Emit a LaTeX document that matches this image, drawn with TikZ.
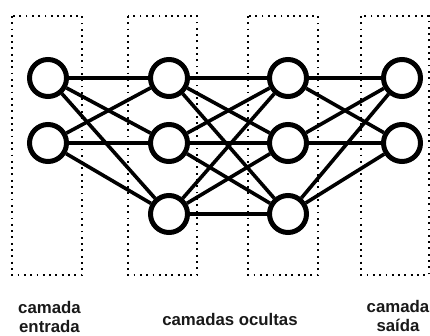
\documentclass[tikz,border=0pt]{standalone}
\usepackage{fontspec}
\setmainfont{Liberation Sans}
\begin{document}
\begin{tikzpicture}[x=1pt,y=-1pt,
  neuron/.style={circle,draw=black,line width=5pt,fill=white,minimum size=37pt,inner sep=0pt},
  link/.style={line width=3.6pt,black},
  layerbox/.style={draw=black,line width=1.8pt,dash pattern=on 1.8pt off 4.5pt},
  lbl/.style={font=\bfseries\fontsize{16.8}{18.5}\selectfont,align=center,inner sep=0pt,text=black!90}]
\useasboundingbox (0,0) rectangle (430,336);
% layer boxes
\draw[layerbox] (12,16) rectangle (82,275);
\draw[layerbox] (128,16) rectangle (197,275);
\draw[layerbox] (248,16) rectangle (318,275);
\draw[layerbox] (361,16) rectangle (429,275);
% neurons
\node[neuron] (a1) at (48,78) {};
\node[neuron] (a2) at (48,143) {};
\node[neuron] (b1) at (169,78) {};
\node[neuron] (b2) at (169,143) {};
\node[neuron] (b3) at (169,214) {};
\node[neuron] (c1) at (288,78) {};
\node[neuron] (c2) at (288,143) {};
\node[neuron] (c3) at (288,214) {};
\node[neuron] (d1) at (402,78) {};
\node[neuron] (d2) at (402,143) {};
% connections
\foreach \s in {a1,a2}{\foreach \t in {b1,b2,b3}{\draw[link] (\s) -- (\t);}}
\foreach \s in {b1,b2,b3}{\foreach \t in {c1,c2,c3}{\draw[link] (\s) -- (\t);}}
\foreach \s in {c1,c2,c3}{\foreach \t in {d1,d2}{\draw[link] (\s) -- (\t);}}
% labels
\node[lbl,anchor=base] (lin) at (49.5,332) {camada\\entrada};
\node[lbl,anchor=base] (lhid) at (230,325) {camadas ocultas};
\node[lbl,anchor=base] (lout) at (398,331) {camada\\saída};
\end{tikzpicture}
\end{document}
